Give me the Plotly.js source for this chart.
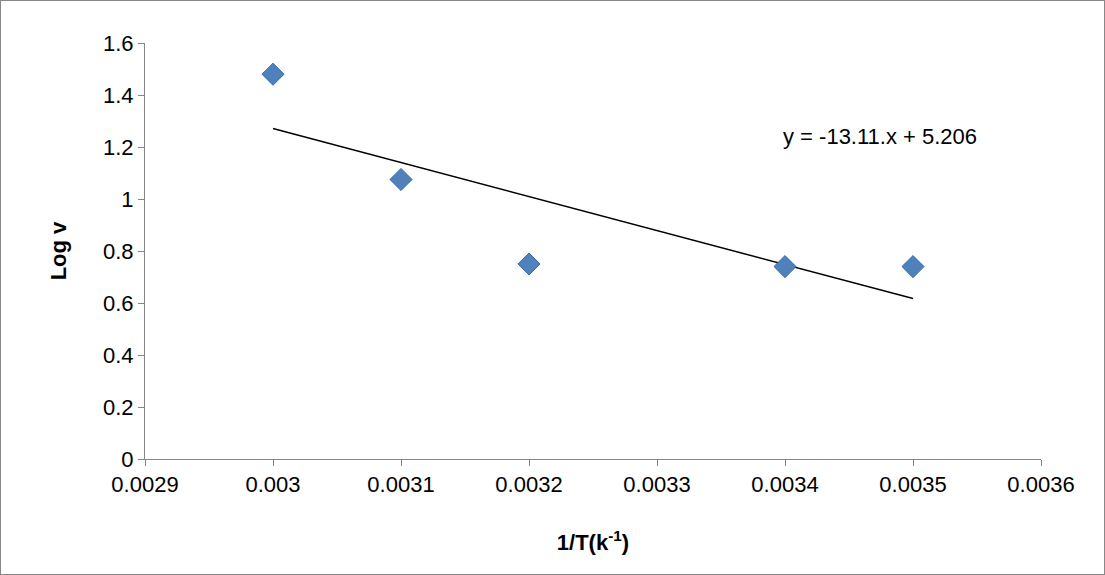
<!DOCTYPE html>
<html><head><script src="https://cdn.plot.ly/plotly-3.0.1.min.js"></script>
<style>body{margin:0}#c{width:1105px;height:575px;box-sizing:border-box;border:1px solid #888}</style></head>
<body><div id="c"></div><script>
const xVals=[0.003,0.0031,0.0032,0.0034,0.0035];
const yVals=[1.48,1.075,0.75,0.74,0.74];
const xTicks=[0.0029,0.003,0.0031,0.0032,0.0033,0.0034,0.0035,0.0036];
const xTickText=['0.0029','0.003','0.0031','0.0032','0.0033','0.0034','0.0035','0.0036'];
const eqText='y = -13.11.x + 5.206';
const n=xVals.length,mx=xVals.reduce((a,b)=>a+b)/n,my=yVals.reduce((a,b)=>a+b)/n;
let sxy=0,sxx=0;for(let i=0;i<n;i++){sxy+=(xVals[i]-mx)*(yVals[i]-my);sxx+=(xVals[i]-mx)**2;}
const m=sxy/sxx,b=my-m*mx;
const x0=Math.min(...xVals),x1=Math.max(...xVals);
const f={family:'Liberation Sans, Arial, sans-serif',size:22,color:'#000'};
Plotly.newPlot('c',[
{x:[x0,x1],y:[m*x0+b,m*x1+b],mode:'lines',line:{color:'#000',width:1.5},hoverinfo:'skip'},
{x:xVals,y:yVals,mode:'markers',marker:{symbol:'diamond',size:17,color:'#4F81BD',line:{color:'#3A6AA5',width:1}}}
],{width:1103,height:573,showlegend:false,margin:{l:144,r:63,t:42,b:115},
paper_bgcolor:'#fff',plot_bgcolor:'#fff',font:f,
xaxis:{range:[0.0029,0.0036],tickvals:xTicks,ticktext:xTickText,showgrid:false,zeroline:false,showline:true,linecolor:'#868686',ticks:'outside',tickcolor:'#868686',ticklen:6,tickfont:f,
title:{text:'<b>1/T(k<sup>-1</sup>)</b>',font:f,standoff:38}},
yaxis:{range:[0,1.6],dtick:0.2,showgrid:false,zeroline:false,showline:true,linecolor:'#868686',ticks:'outside',tickcolor:'#868686',ticklen:6,tickfont:f,
title:{text:'<b>Log v</b>',font:f,standoff:30}},
annotations:[{x:0.003474,y:1.24,text:eqText,showarrow:false,font:f}]
},{displayModeBar:false});
</script></body></html>
